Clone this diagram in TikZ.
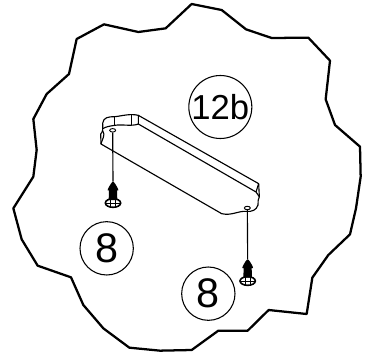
\documentclass[tikz,border=0pt]{standalone}
\usepackage{fontspec}
\setmainfont{Liberation Sans}
\usetikzlibrary{shapes.geometric}
\tikzset{
  callout/.style={draw,circle,line width=0.8pt,inner sep=0pt,minimum size=40pt,font=\fontsize{31}{31}\selectfont},
  edgeline/.style={line width=0.85pt,line join=round},
  hole/.style={draw,ellipse,line width=0.7pt,inner sep=0pt,minimum width=4.5pt,minimum height=2.6pt}
}
\begin{document}
\begin{tikzpicture}[x=0.25pt,y=-0.25pt]
\useasboundingbox (0,0) rectangle (1113,1068);

% ================= TORN OUTLINE =================
\draw[line width=1.7pt,line join=round] (575,12) -- (665,30) -- (738,88) -- (815,114) -- (925,113)
  -- (990,182) -- (977,298) -- (1005,375) -- (1080,440) -- (1082,530) -- (1068,625) -- (1050,703)
  -- (985,765) -- (937,833) -- (920,942) -- (806,930) -- (743,992) -- (655,992) -- (575,1050)
  -- (480,1052) -- (388,1043) -- (310,985) -- (250,915) -- (213,832) -- (113,797) -- (65,718)
  -- (40,625) -- (100,530) -- (110,450) -- (100,357) -- (140,282) -- (207,222) -- (230,117)
  -- (312,73) -- (415,96) -- (497,85) -- cycle;

% ================= BRACKET =================
\draw[edgeline] (415,346) -- (776,551) -- (778,590) .. controls (772,596) and (776,606) .. (774,615)
  .. controls (770,630) and (755,636) .. (740,634) .. controls (715,632) and (695,648) .. (665,641)
  -- (303,432) -- (302,402) .. controls (310,395) and (308,385) .. (308,370)
  .. controls (310,352) and (325,350) .. (345,350) .. controls (365,348) and (390,340) .. (415,346);
\draw[edgeline] (415,372) -- (768,576) -- (778,590);
\draw[edgeline] (776,551) -- (768,576);
\draw[edgeline] (415,346) -- (415,372) .. controls (395,380) and (365,372) .. (345,376)
  .. controls (330,378) and (318,380) .. (308,386);
\draw[edgeline] (394,346) -- (394,374);
\draw[edgeline] (343,350) -- (343,377);
\draw[edgeline] (308,392) .. controls (318,405) and (305,420) .. (303,432);

% ================= SCREWS =================
\node[hole] (holeleft) at (338,391) {};
\node[hole] (holeright) at (742,624) {};
\coordinate (screwleft) at (339,545);
\coordinate (screwright) at (743,778);
\draw[edgeline] (holeleft) -- (screwleft);
\draw[edgeline] (holeright) -- (screwright);
\fill (screwleft) .. controls +(7,2) and +(12,10) .. +(12,26) -- +(13,55) -- +(-13,55) -- +(-12,26)
  .. controls +(-12,10) and +(-7,2) .. (screwleft);
\fill (screwright) .. controls +(7,2) and +(12,10) .. +(12,26) -- +(13,55) -- +(-13,55) -- +(-12,26)
  .. controls +(-12,10) and +(-7,2) .. (screwright);
\draw[line width=1.2pt] (339,609) ellipse (23 and 13);
\draw[line width=1.2pt] (743,843) ellipse (23 and 13);
\draw[line width=0.6pt] (331,597) -- (331,622) (347,597) -- (347,622) (316,609) -- (362,609);
\draw[line width=0.6pt] (735,831) -- (735,856) (751,831) -- (751,856) (720,843) -- (766,843);

% ================= CALLOUTS =================
\node[callout,minimum size=43pt,font=\fontsize{26}{26}\selectfont] (partb) at (661,321) {12b};
\node[callout] (screwa) at (320,745) {8};
\node[callout] (screwb) at (625,881) {8};
\end{tikzpicture}
\end{document}
